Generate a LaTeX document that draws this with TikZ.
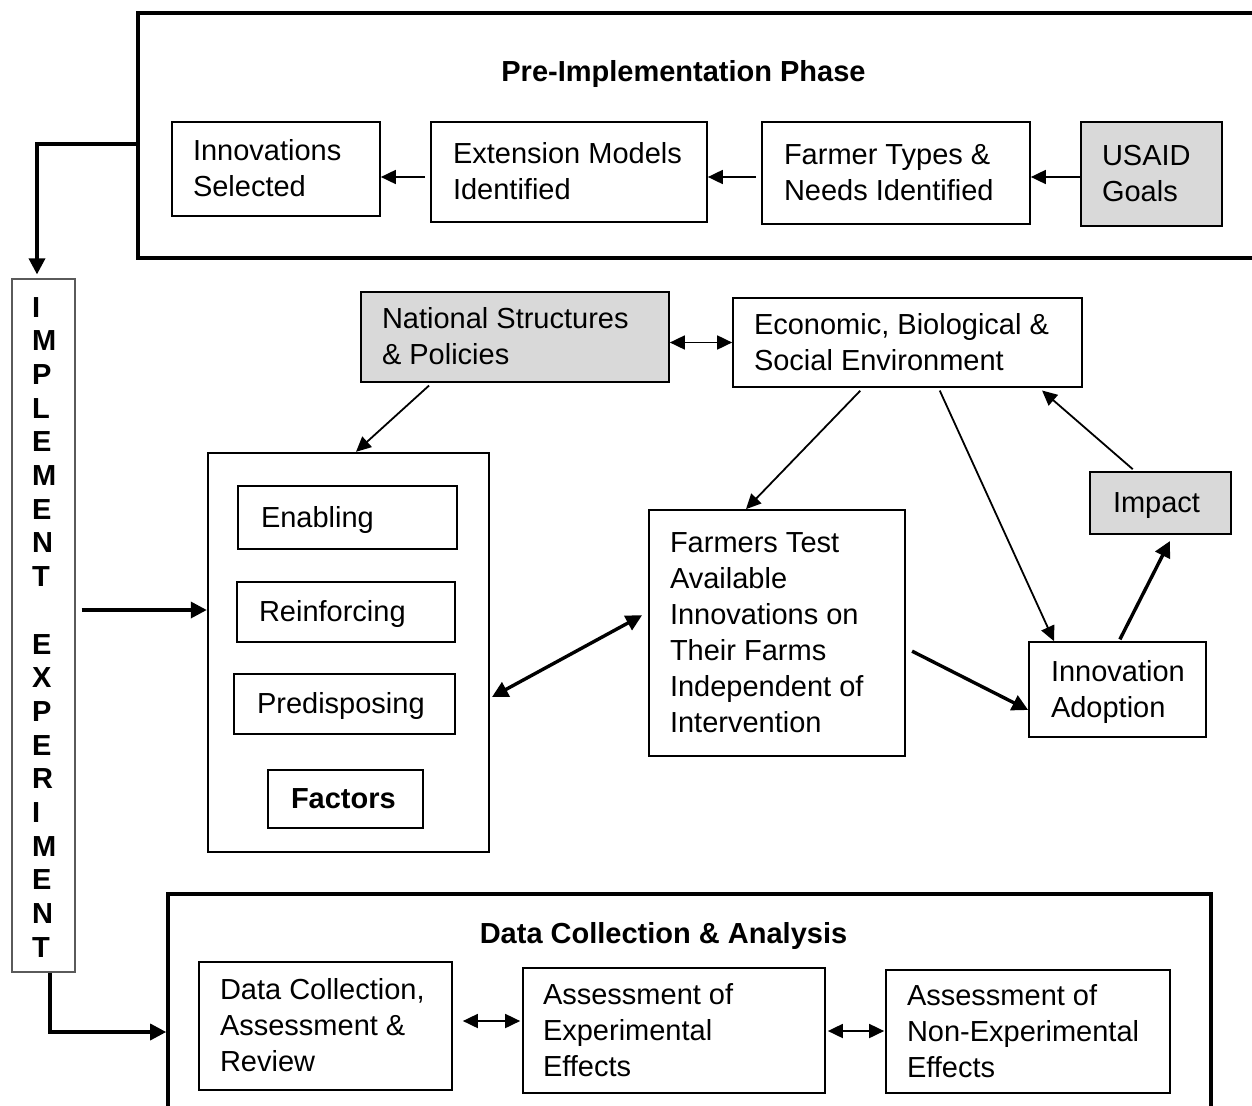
\documentclass[tikz,border=0pt]{standalone}
\usepackage{fontspec}
\setmainfont{Liberation Sans}
\usetikzlibrary{arrows.meta}
\definecolor{boxgray}{RGB}{217,217,217}
\definecolor{implgray}{RGB}{90,90,90}
\newcommand\BX[8]{%
  \pgfmathsetmacro\bxw{#4-#2}%
  \pgfmathsetmacro\bxh{#5-#3}%
  \node[tbox,#7,minimum width=\bxw pt,minimum height=\bxh pt] (#1) at ({(#2+#4)/2},{(#3+#5)/2})
    {\makebox[\bxw pt][l]{\hspace*{#6pt}\raisebox{-2.5pt}[\height][\depth]{\begin{tabular}{@{}l@{}}#8\end{tabular}}}};}
\tikzset{
  tbox/.style={draw, line width=1.7pt, inner sep=0pt, font=\fontsize{29}{36}\selectfont},
  frame/.style={draw, line width=3.6pt, inner sep=0pt},
  arr/.style={line width=1.8pt, -{Triangle[length=15pt,width=14pt]}},
  dbl/.style={line width=1.8pt, {Triangle[length=15pt,width=14pt]}-{Triangle[length=15pt,width=14pt]}},
  tarr/.style={line width=3.4pt, -{Triangle[length=16pt,width=16pt]}},
  tdbl/.style={line width=3.4pt, {Triangle[length=16pt,width=16pt]}-{Triangle[length=16pt,width=16pt]}},
  titlef/.style={font=\fontsize{29}{36}\selectfont\bfseries, inner sep=0pt},
}
\begin{document}
\begin{tikzpicture}[x=1pt,y=-1pt]
\useasboundingbox[fill=white] (0,0) rectangle (1252,1105);

% frames
\node[frame, minimum width=1162pt, minimum height=245pt] (topbox) at (719,135.5) {};
\node[frame, minimum width=1043pt, minimum height=306pt] (botbox) at (689.5,1047) {};
\node[draw, line width=2.4pt, inner sep=0pt, minimum width=281pt, minimum height=399pt] (fac) at (348.5,652.5) {};
\node[draw=implgray, line width=1.2pt, inner sep=0pt, minimum width=63pt, minimum height=693pt] (impl) at (43.5,625.5) {};

% titles
\node[titlef, anchor=base] (pretitle) at (683.5,82) {Pre-Implementation Phase};
\node[titlef, anchor=base] (dctitle) at (663.5,943) {Data Collection \& Analysis};
\node[anchor=base west, inner sep=0pt, font=\fontsize{29}{33.7}\selectfont\bfseries] (impltext) at (32,317)
  {\begin{tabular}[t]{@{}l@{}}I\\M\\P\\L\\E\\M\\E\\N\\T\\ \\E\\X\\P\\E\\R\\I\\M\\E\\N\\T\end{tabular}};

% top row
\BX{innov}{172}{122}{380}{216}{21}{}{Innovations\\Selected}
\BX{ext}{431}{122}{707}{222}{22}{}{Extension Models\\Identified}
\BX{farmer}{762}{122}{1030}{224}{22}{}{Farmer Types \&\\Needs Identified}
\BX{usaid}{1081}{122}{1222}{226}{21}{fill=boxgray}{USAID\\Goals}

% middle
\BX{nat}{361}{292}{669}{382}{21}{fill=boxgray}{National Structures\\\& Policies}
\BX{econ}{733}{298}{1082}{387}{21}{}{Economic, Biological \&\\Social Environment}
\BX{enab}{238}{486}{457}{549}{23}{}{Enabling}
\BX{reinf}{237}{582}{455}{642}{22}{}{Reinforcing}
\BX{pred}{234}{674}{455}{734}{23}{}{Predisposing}
\BX{factors}{268}{770}{423}{828}{23}{}{\textbf{Factors}}
\BX{farmers}{649}{510}{905}{756}{21}{}{Farmers Test\\Available\\Innovations on\\Their Farms\\Independent of\\Intervention}
\BX{adopt}{1029}{642}{1206}{737}{22}{}{Innovation\\Adoption}
\BX{impact}{1090}{472}{1231}{534}{23}{fill=boxgray}{Impact}

% bottom
\BX{dc}{199}{962}{452}{1090}{21}{}{Data Collection,\\Assessment \&\\Review}
\BX{exp}{523}{968}{825}{1093}{20}{}{Assessment of\\Experimental\\Effects}
\BX{nonexp}{886}{970}{1170}{1093}{21}{}{Assessment of\\Non-Experimental\\Effects}

% connectors top
\draw[arr] ([yshift=-3pt]usaid.west) -- ([yshift=-3pt]usaid.west -| farmer.east);
\draw[arr, shorten <=5pt] ([yshift=-4pt]farmer.west) -- ([yshift=-4pt]farmer.west -| ext.east);
\draw[arr, shorten <=5pt] ([yshift=-5pt]ext.west) -- ([yshift=-5pt]ext.west -| innov.east);
\draw[tarr, shorten >=4pt] ([yshift=-8.5pt]topbox.west) -| ([xshift=-6.5pt]impl.north);
\draw[tarr, shorten <=6pt] ([yshift=42.5pt]fac.west -| impl.east) -- ([yshift=42.5pt]fac.west);
\draw[tarr] ([xshift=6.5pt]impl.south) |- ([yshift=-6pt]dc.west -| botbox.west);

% connectors middle
\draw[dbl] (nat.east |- econ.west) -- (econ.west);
\draw[arr, shorten <=4pt] ([xshift=-83pt]nat.south) -- ([xshift=7.5pt]fac.north);
\draw[arr, shorten <=4pt] ([xshift=-44.5pt]econ.south) -- ([xshift=-31pt]farmers.north);
\draw[arr, shorten <=3pt] ([xshift=31pt]econ.south) -- ([xshift=-63.5pt]adopt.north);
\draw[arr, shorten <=3pt, shorten >=4pt] ([xshift=-25.5pt]impact.north) -- ([xshift=131.5pt]econ.south);
\draw[tarr, shorten <=2pt, shorten >=7pt] ([xshift=1.5pt]adopt.north) -- ([xshift=12.5pt]impact.south);
\draw[tarr, shorten <=7pt] ([yshift=-15pt]farmers.east) -- ([yshift=-20.5pt]adopt.west);
\draw[tdbl, shorten <=2pt, shorten >=7pt] ([yshift=-45.5pt]fac.east) -- ([yshift=21pt]farmers.west);

% connectors bottom
\draw[dbl, shorten <=10pt, shorten >=2pt] ([yshift=5pt]dc.east) -- ([yshift=5pt]dc.east -| exp.west);
\draw[dbl, shorten <=2pt, shorten >=1pt] ([yshift=-0.5pt]exp.east) -- ([yshift=-0.5pt]exp.east -| nonexp.west);
\end{tikzpicture}
\end{document}
